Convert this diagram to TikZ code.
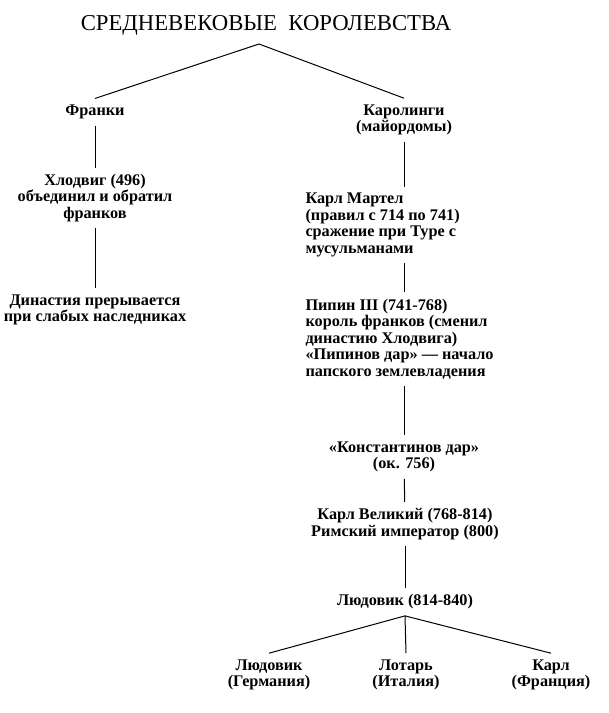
\documentclass[tikz,border=0pt]{standalone}
\usepackage{fontspec}
\setmainfont{Liberation Serif}
\usepackage{tikz}
\usetikzlibrary{arrows}

\begin{document}
\begin{tikzpicture}[line width=1bp,every node/.style={font=\bfseries\fontsize{16.3}{16.6}\selectfont,inner xsep=0pt,inner ysep=6bp},
	lft/.style={align=left,anchor=west},ctr/.style={align=center}]
	\useasboundingbox (0bp,0bp) rectangle (609bp,-713bp);

	\node[font=\fontsize{22.8}{26}\selectfont,anchor=base] (Title) at (266bp,-30bp) {СРЕДНЕВЕКОВЫЕ\enspace КОРОЛЕВСТВА};
	\coordinate (Top) at (259bp,-44bp);

	\node[ctr] (Frank) at (95bp,-112bp)   {Франки};
	\node[ctr] (Chlod) at (95bp,-198bp)   {Хлодвиг (496)\\объединил и обратил\\франков};
	\node[ctr] (Dyn)   at (95bp,-310bp)   {Династия прерывается\\при слабых наследниках};

	\node[ctr] (Karo)  at (404bp,-120bp)  {Каролинги\\(майордомы)};
	\node[lft] (Mart)  at (305bp,-225bp)  {Карл Мартел\\(правил с 714 по 741)\\сражение при Туре с\\мусульманами};
	\node[lft] (Pip)   at (305bp,-339bp)  {Пипин III (741-768)\\король франков (сменил\\династию Хлодвига)\\«Пипинов дар» — начало\\папского землевладения};
	\node[ctr] (Konst) at (404bp,-457bp)  {«Константинов дар»\\(ок. 756)};
	\node[ctr] (KarlV) at (405bp,-524bp)  {Карл Великий (768-814)\\Римский император (800)};
	\node[ctr] (Lud)   at (405bp,-602bp)  {Людовик (814-840)};

	\node[ctr] (LudG)  at (269bp,-675bp)  {Людовик\\(Германия)};
	\node[ctr] (Lot)   at (406bp,-675bp)  {Лотарь\\(Италия)};
	\node[ctr] (KarlF) at (551bp,-675bp)  {Карл\\(Франция)};

	\draw (Top) to (Frank.north);
	\draw (Top) to (Karo.north);
	\draw (Frank) to (Chlod);
	\draw (Chlod) to (Dyn);
	\draw (Karo) to (Karo |- Mart.north);
	\draw (Karo |- Mart.south) to (Karo |- Pip.north);
	\draw (Karo |- Pip.south) to (Konst);
	\draw (Konst) to (KarlV);
	\draw (KarlV) to (Lud);
	\draw (Lud.south) to (LudG.north);
	\draw (Lud.south) to (Lot.north);
	\draw (Lud.south) to (KarlF.north);
\end{tikzpicture}
\end{document}
